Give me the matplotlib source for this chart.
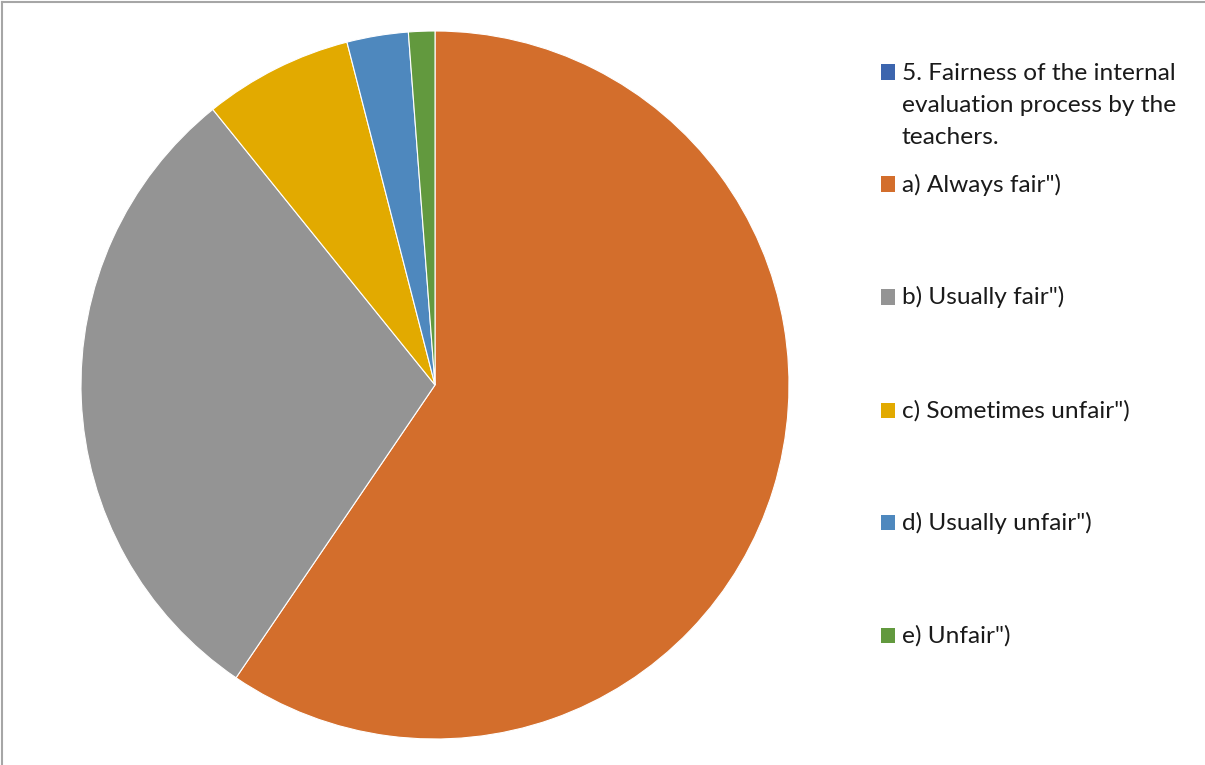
import matplotlib
matplotlib.use("Agg")
import matplotlib.pyplot as plt
from matplotlib.patches import Rectangle
from matplotlib.lines import Line2D

# --- chart data ---
labels = [
    "5. Fairness of the internal\nevaluation process by the\nteachers.",
    'a) Always fair")',
    'b) Usually fair")',
    'c) Sometimes unfair")',
    'd) Usually unfair")',
    'e) Unfair")',
]
values = [0, 59.5, 29.7, 6.8, 2.8, 1.2]
colors = ["#3C65AE", "#D36E2C", "#949494", "#E2AA00", "#4E88BE", "#62993E"]

W, H = 1205, 765
fig = plt.figure(figsize=(W / 100, H / 100), dpi=100)
fig.patch.set_facecolor("white")

# pie area (pixel box converted to figure fractions)
ax = fig.add_axes([81 / W, (H - 739) / H, 708 / W, 708 / H])
pie_vals = [v for v in values if v > 0]
pie_cols = [c for v, c in zip(values, colors) if v > 0]
ax.pie(pie_vals, colors=pie_cols, startangle=90, counterclock=False,
       radius=1.0, wedgeprops=dict(edgecolor="white", linewidth=0.8))
ax.set_xlim(-1.0, 1.0)
ax.set_ylim(-1.0, 1.0)
ax.set_aspect("equal")
ax.axis("off")

# legend drawn by hand on the right
legend_y = [72, 184, 297, 410, 522, 635]
line_step = 32
for lab, col, y in zip(labels, colors, legend_y):
    fig.patches.append(Rectangle((881 / W, (H - y - 7.5) / H), 14 / W, 15 / H,
                                 transform=fig.transFigure, facecolor=col,
                                 edgecolor="none"))
    for i, line in enumerate(lab.split("\n")):
        base = y + 7.5 + i * line_step
        fig.text(902 / W, (H - base) / H, line, ha="left", va="baseline",
                 fontsize=17.6, family="Lato", color="#1A1A1A")

# chart frame (top and left edges visible)
fig.add_artist(Line2D([1.5 / W, 1.5 / W], [0, (H - 2) / H], color="#A6A6A6", lw=1.5))
fig.add_artist(Line2D([1.5 / W, 1], [(H - 2) / H, (H - 2) / H], color="#A6A6A6", lw=1.5))

fig.savefig("out.png", dpi=100)
